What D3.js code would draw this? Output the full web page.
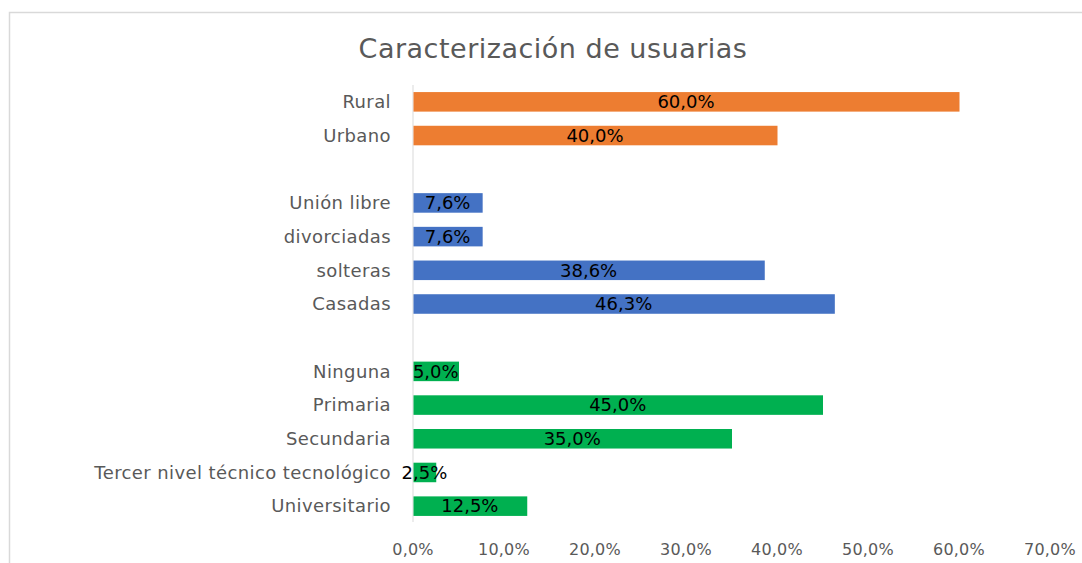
<!DOCTYPE html>
<html>
<head>
<meta charset="UTF-8"/>
<style>
  body { margin: 0; background: #fff; }
  text { font-family: "DejaVu Sans", sans-serif; }
</style>
</head>
<body>
<script src="https://d3js.org/d3.v7.min.js"></script>
<script>
// rows from top to bottom, "" = empty gap row
const categories = ["Rural", "Urbano", "",
  "Unión libre", "divorciadas", "solteras", "Casadas", "",
  "Ninguna", "Primaria", "Secundaria", "Tercer nivel técnico tecnológico", "Universitario"];
const values = [60.0, 40.0, null, 7.6, 7.6, 38.6, 46.3, null, 5.0, 45.0, 35.0, 2.5, 12.5];
const groups = ["zona", "zona", null, "civil", "civil", "civil", "civil", null,
  "edu", "edu", "edu", "edu", "edu"];
const groupColors = { zona: "#ED7D31", civil: "#4472C4", edu: "#00B050" };
const xTicks = [0, 10, 20, 30, 40, 50, 60, 70];

const width = 1082, height = 563;
const svg = d3.select("body").append("svg")
  .attr("width", width)
  .attr("height", height);

// chart border (only top and left visible in the crop)
svg.append("path")
  .attr("d", "M9.5,563 V12.5 H1082")
  .attr("fill", "none")
  .attr("stroke", "#d9d9d9")
  .attr("stroke-width", 1.5);

svg.append("text")
  .attr("x", 553)
  .attr("y", 58)
  .attr("text-anchor", "middle")
  .attr("font-size", "27px")
  .attr("letter-spacing", "0.5px")
  .attr("fill", "#595959")
  .text("Caracterización de usuarias");

const x = d3.scaleLinear().domain([0, 70]).range([413, 1050]);
const y = d3.scaleBand()
  .domain(categories.map((c, i) => i))
  .range([85, 523])
  .paddingInner(0.42)
  .paddingOuter(0.21);

const rows = categories.map((c, i) => ({ cat: c, v: values[i], g: groups[i], i: i }))
  .filter(d => d.v !== null);

// vertical axis line
svg.append("line")
  .attr("x1", x(0)).attr("x2", x(0))
  .attr("y1", 85).attr("y2", 522)
  .attr("stroke", "#d9d9d9");

svg.selectAll("rect.bar")
  .data(rows)
  .enter()
  .append("rect")
  .attr("class", "bar")
  .attr("x", x(0) + 0.5)
  .attr("y", d => y(d.i))
  .attr("width", d => x(d.v) - x(0))
  .attr("height", y.bandwidth())
  .attr("fill", d => groupColors[d.g]);

svg.selectAll("text.cat")
  .data(rows)
  .enter()
  .append("text")
  .attr("class", "cat")
  .attr("x", 391)
  .attr("y", d => y(d.i) + y.bandwidth() / 2)
  .attr("dy", "0.35em")
  .attr("text-anchor", "end")
  .attr("font-size", "18px")
  .attr("letter-spacing", "0.4px")
  .attr("fill", "#595959")
  .text(d => d.cat);

svg.selectAll("text.val")
  .data(rows)
  .enter()
  .append("text")
  .attr("class", "val")
  .attr("x", d => (x(0) + x(d.v)) / 2)
  .attr("y", d => y(d.i) + y.bandwidth() / 2)
  .attr("dy", "0.35em")
  .attr("text-anchor", "middle")
  .attr("font-size", "18px")
  .attr("fill", "#000")
  .text(d => d.v.toFixed(1).replace(".", ",") + "%");

const fmt = d => d.toFixed(1).replace(".", ",") + "%";
svg.selectAll("text.tick")
  .data(xTicks)
  .enter()
  .append("text")
  .attr("class", "tick")
  .attr("x", d => x(d))
  .attr("y", 549)
  .attr("dy", "0.35em")
  .attr("text-anchor", "middle")
  .attr("font-size", "16px")
  .attr("letter-spacing", "0.2px")
  .attr("fill", "#595959")
  .text(fmt);
</script>
</body>
</html>
